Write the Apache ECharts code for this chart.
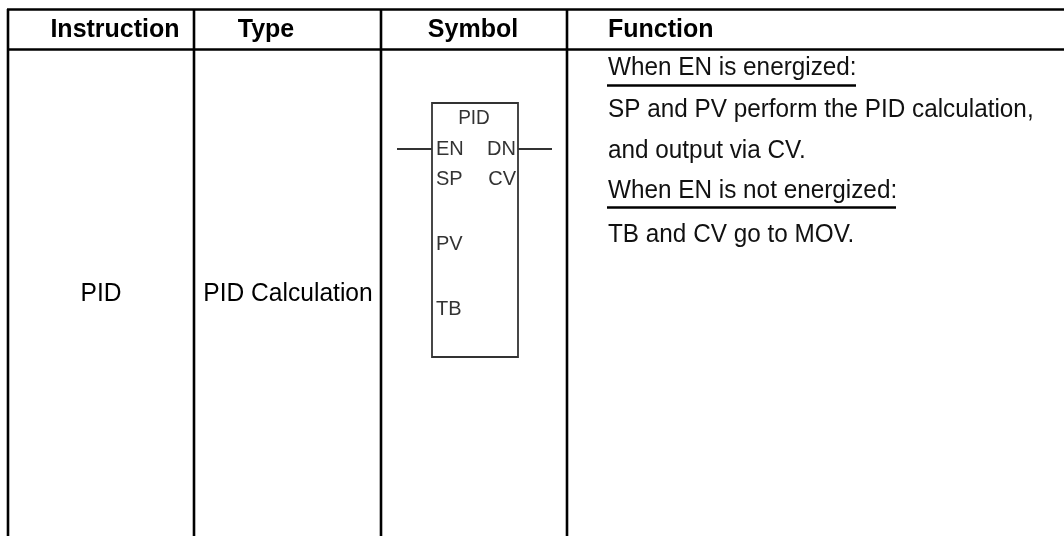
<!DOCTYPE html>
<html>
<head>
<meta charset="utf-8">
<style>html,body{margin:0;padding:0;background:#fff}#main{width:1064px;height:536px}</style>
<script src="https://cdn.jsdelivr.net/npm/echarts@6/dist/echarts.min.js"></script>
</head>
<body>
<div id="main"></div>
<script>
// table text
var headers = ['Instruction', 'Type', 'Symbol', 'Function']
var instructionName = 'PID'
var instructionType = 'PID Calculation'
var functionLines = [
  'When EN is energized:',
  'SP and PV perform the PID calculation,',
  'and output via CV.',
  'When EN is not energized:',
  'TB and CV go to MOV.'
]
var symbolTitle = 'PID'
var symbolPinsLeft = ['EN', 'SP', 'PV', 'TB']
var symbolPinsRight = ['DN', 'CV']

var chart = echarts.init(document.getElementById('main'))
var els = []

function line (x1, y1, x2, y2, w, color) {
  els.push({
    type: 'line',
    shape: { x1: x1, y1: y1, x2: x2, y2: y2 },
    style: { stroke: color || '#000', lineWidth: w }
  })
}

function text (str, x, y, opt) {
  els.push({
    type: 'text',
    x: x,
    y: y,
    scaleX: opt.scaleX || 1,
    style: {
      text: str,
      x: 0,
      y: 0,
      fill: opt.color || '#000',
      align: opt.align || 'left',
      verticalAlign: 'bottom',
      fontFamily: 'Liberation Sans',
      fontSize: opt.size,
      fontWeight: opt.weight || 'normal'
    }
  })
}

// table rules
line(7, 9.5, 1064, 9.5, 2.6)
line(7, 49.5, 1064, 49.5, 2.6)
var colX = [8, 194, 381, 567]
colX.forEach(function (x) { line(x, 9, x, 536, 2.6) })

// header row
var headerX = [115, 266, 473, 608]
headers.forEach(function (h, i) {
  text(h, headerX[i], 43, { size: 25, weight: 'bold', align: i === 3 ? 'left' : 'center' })
})

// body cells
text(instructionName, 101, 307, { size: 26, align: 'center', scaleX: 0.945 })
text(instructionType, 288, 307, { size: 26, align: 'center', scaleX: 0.945 })

var lineY = [81, 123, 164, 204, 248]
functionLines.forEach(function (s, i) {
  text(s, 608, lineY[i], { size: 26, scaleX: 0.935, color: '#111' })
})
line(607, 85.5, 856, 85.5, 2.6)
line(607, 207.5, 896, 207.5, 2.6)

// ladder symbol
var symColor = '#333'
els.push({
  type: 'rect',
  shape: { x: 432, y: 103, width: 86, height: 254 },
  style: { fill: 'none', stroke: symColor, lineWidth: 1.8 }
})
line(397, 149, 432, 149, 1.8, symColor)
line(518, 149, 552, 149, 1.8, symColor)
text(symbolTitle, 474, 128, { size: 20, align: 'center', color: symColor, scaleX: 0.95 })
var leftY = [159, 189, 254, 319]
symbolPinsLeft.forEach(function (s, i) {
  text(s, 436, leftY[i], { size: 20, color: symColor })
})
var rightY = [159, 189]
symbolPinsRight.forEach(function (s, i) {
  text(s, 516, rightY[i], { size: 20, align: 'right', color: symColor })
})

chart.setOption({
  backgroundColor: '#fff',
  animation: false,
  graphic: { elements: els }
})
</script>
</body>
</html>
